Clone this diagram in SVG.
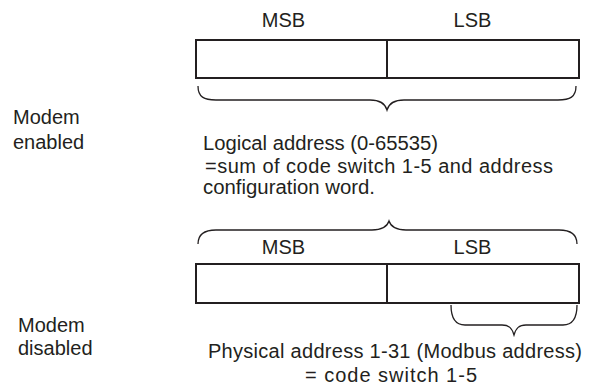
<svg xmlns="http://www.w3.org/2000/svg" width="594" height="385" viewBox="0 0 594 385">
<style>
text{font-family:"Liberation Sans",Arial,sans-serif;font-size:20px;fill:#231f20}
.box{fill:none;stroke:#231f20;stroke-width:2}
.brace{fill:none;stroke:#231f20;stroke-width:1.3}
</style>
<rect width="594" height="385" fill="#fff"/>
<g id="modem-enabled">
<g id="labels-top">
<text x="283.5" y="27" text-anchor="middle">MSB</text>
<text x="472.5" y="27" text-anchor="middle">LSB</text>
</g>
<g id="word-top">
<rect class="box" x="196" y="40" width="383" height="38"/>
<line class="box" x1="387" y1="40" x2="387" y2="78"/>
</g>
<text x="13" y="124">Modem</text>
<text x="13" y="149">enabled</text>
<text x="203" y="150" textLength="235" lengthAdjust="spacingAndGlyphs">Logical address (0-65535)</text>
<text x="205" y="173" textLength="348" lengthAdjust="spacing">=sum of code switch 1-5 and address</text>
<text x="203" y="194" textLength="172" lengthAdjust="spacingAndGlyphs">configuration word.</text>
</g>
<g id="modem-disabled">
<g id="labels-bottom">
<text x="283.5" y="254" text-anchor="middle">MSB</text>
<text x="472.5" y="254" text-anchor="middle">LSB</text>
</g>
<g id="word-bottom">
<rect class="box" x="196" y="264" width="383" height="39"/>
<line class="box" x1="387" y1="264" x2="387" y2="303"/>
</g>
<text x="18" y="332">Modem</text>
<text x="18" y="355">disabled</text>
<text x="208" y="358" textLength="374" lengthAdjust="spacing">Physical address 1-31 (Modbus address)</text>
<text x="305" y="382" textLength="172" lengthAdjust="spacing">= code switch 1-5</text>
</g>
<g id="connectors">
<path class="brace" d="M198,86 C198,97 204,100 216,100 L370,100 C380,100 385,103 387,110 C389,103 394,100 404,100 L558,100 C570,100 576,97 576,86"/>
<path class="brace" d="M198,244 C198,234 204,230 216,230 L372,230 C382,230 387,227 389,221 C391,227 396,230 406,230 L559,230 C571,230 577,234 577,244"/>
<path class="brace" d="M451,305 C451,318 455,325 465,325 L502,325 C509,325 512,328 514,335 C516,328 519,325 526,325 L563,325 C573,325 577,318 577,305"/>
</g>
</svg>
